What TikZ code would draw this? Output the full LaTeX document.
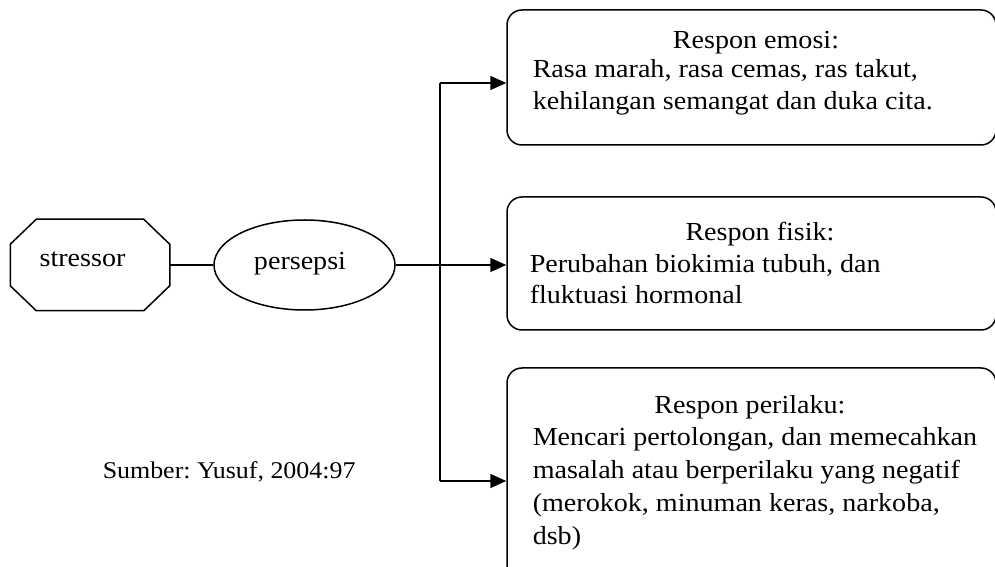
\documentclass[tikz,border=0pt]{standalone}
\usepackage{fontspec}
\setmainfont{Liberation Serif}[FakeStretch=1.08]
\frenchspacing
\usetikzlibrary{arrows.meta,calc,shapes.geometric}
\begin{document}
\begin{tikzpicture}[x=1pt,y=1pt,
  line width=1.5pt,
  txt/.style={inner sep=0pt, font=\fontsize{26}{31}\selectfont},
  respbox/.style={draw, rounded corners=15pt, minimum width=489pt, inner sep=0pt},
  arr/.style={-{Triangle[length=16pt,width=14pt]}}]
\useasboundingbox (0,0) rectangle (995,567);
% stressor octagon
\node[minimum width=158pt, minimum height=90pt, inner sep=0pt] (stressor) at (90,302) {};
\draw ($(stressor.north west)+(26,0)$) -- ($(stressor.north east)+(-26,0)$)
  -- ($(stressor.north east)+(0,-25)$) -- ($(stressor.south east)+(0,25)$)
  -- ($(stressor.south east)+(-26,0)$) -- ($(stressor.south west)+(26,0)$)
  -- ($(stressor.south west)+(0,25)$) -- ($(stressor.north west)+(0,-25)$) -- cycle;
\node[txt, anchor=base] (stressorlbl) at (82.5,300) {stressor};
% persepsi ellipse
\node[draw, ellipse, minimum width=181pt, minimum height=90pt, inner sep=0pt] (persepsi) at (304.5,302) {};
\node[txt, anchor=base] (persepsilbl) at (300,297) {persepsi};
% response boxes
\node[respbox, minimum height=135pt] (box1) at (751.5,489.5) {};
\node[respbox, minimum height=133pt] (box2) at (751.5,303.5) {};
\node[respbox, minimum height=212pt] (box3) at (751.5,93) {};
% texts box1
\node[txt, anchor=base] (b1t) at (756,518) {Respon emosi:};
\node[txt, anchor=base west] (b1a) at (532,489) {Rasa marah, rasa cemas, ras takut,};
\node[txt, anchor=base west] (b1b) at (532,457) {kehilangan semangat dan duka cita.};
% texts box2
\node[txt, anchor=base] (b2t) at (760,326) {Respon fisik:};
\node[txt, anchor=base west] (b2a) at (529,294) {Perubahan biokimia tubuh, dan};
\node[txt, anchor=base west] (b2b) at (529,263) {fluktuasi hormonal};
% texts box3
\node[txt, anchor=base] (b3t) at (750,153) {Respon perilaku:};
\node[txt, anchor=base west] (b3a) at (532,121) {Mencari pertolongan, dan memecahkan};
\node[txt, anchor=base west] (b3b) at (532,88) {masalah atau berperilaku yang negatif};
\node[txt, anchor=base west] (b3c) at (532,55) {(merokok, minuman keras, narkoba,};
\node[txt, anchor=base west] (b3d) at (532,22) {dsb)};
% source
\node[inner sep=0pt, font=\fontsize{24}{29}\selectfont, anchor=base west] (src) at (102,88) {Sumber: Yusuf, 2004:97};
% connectors
\coordinate (jtop) at (440,484);
\coordinate (jbot) at (440,86);
\draw (stressor.east) -- (persepsi.west);
\draw[arr] (persepsi.east) -- (persepsi.east -| box2.west);
\draw (jtop) -- (jbot);
\draw[arr] (jtop) -- (jtop -| box1.west);
\draw[arr] (jbot) -- (jbot -| box3.west);
\end{tikzpicture}
\end{document}
